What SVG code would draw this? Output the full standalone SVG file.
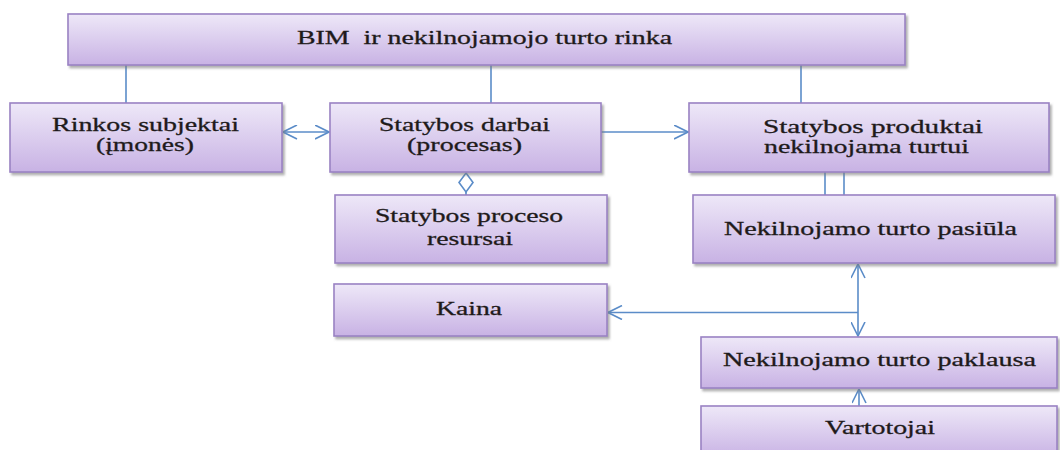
<svg xmlns="http://www.w3.org/2000/svg" width="1060" height="450" viewBox="0 0 1060 450">
  <defs>
    <linearGradient id="boxFill" x1="0" y1="0" x2="0" y2="1">
      <stop offset="0" stop-color="#eee8f8"/>
      <stop offset="1" stop-color="#c8b2e4"/>
    </linearGradient>
    <filter id="boxShadow" x="-5%" y="-10%" width="110%" height="130%">
      <feDropShadow dx="2" dy="2.5" stdDeviation="1" flood-color="#7a7a7a" flood-opacity="0.6"/>
    </filter>
    <marker id="openArrow" viewBox="0 0 15 15" refX="14.5" refY="7.5" markerWidth="15" markerHeight="15" markerUnits="userSpaceOnUse" orient="auto-start-reverse">
      <path d="M0.5,0.5 L14.5,7.5 L0.5,14.5" fill="none" stroke="#5b8cc8" stroke-width="1.6"/>
    </marker>
  </defs>
  <style>
    .box { fill: url(#boxFill); stroke: #9a82c3; stroke-width: 1.6; filter: url(#boxShadow); }
    .lbl { font-family: "Liberation Serif", "Times New Roman", serif; font-size: 19.5px; fill: #1e1a1a; stroke: #1e1a1a; stroke-width: 0.3; text-anchor: middle; }
    .conn { fill: none; stroke: #5b8cc8; stroke-width: 1.6; }
  </style>

  <rect width="1060" height="450" fill="#ffffff"/>

  <!-- connectors -->
  <g id="connectors">
    <line class="conn" x1="126" y1="65" x2="126" y2="103"/>
    <line class="conn" x1="491" y1="65" x2="491" y2="103"/>
    <line class="conn" x1="801" y1="65" x2="801" y2="103"/>
    <line class="conn" x1="283" y1="132" x2="329" y2="132" marker-start="url(#openArrow)" marker-end="url(#openArrow)"/>
    <line class="conn" x1="601" y1="132" x2="688" y2="132" marker-end="url(#openArrow)"/>
    <line class="conn" x1="466" y1="192" x2="466" y2="195"/>
    <path class="conn" d="M466,173 L473,182.5 L466,192 L459,182.5 Z"/>
    <line class="conn" x1="825" y1="172" x2="825" y2="195"/>
    <line class="conn" x1="844" y1="172" x2="844" y2="195"/>
    <line class="conn" x1="858" y1="264" x2="858" y2="336" marker-start="url(#openArrow)" marker-end="url(#openArrow)"/>
    <line class="conn" x1="858" y1="312.5" x2="608" y2="312.5" marker-end="url(#openArrow)"/>
    <line class="conn" x1="859" y1="406" x2="859" y2="389" marker-end="url(#openArrow)"/>
  </g>

  <g id="bim-rinka">
    <rect class="box" x="68" y="14" width="837" height="51"/>
    <text class="lbl" x="484.5" y="44" textLength="375" lengthAdjust="spacingAndGlyphs" xml:space="preserve">BIM  ir nekilnojamojo turto rinka</text>
  </g>

  <g id="rinkos-subjektai">
    <rect class="box" x="10" y="103" width="272" height="69"/>
    <text class="lbl" x="145.5" y="131" textLength="187" lengthAdjust="spacingAndGlyphs">Rinkos subjektai</text>
    <text class="lbl" x="145" y="151" textLength="98" lengthAdjust="spacingAndGlyphs">(įmonės)</text>
  </g>

  <g id="statybos-darbai">
    <rect class="box" x="330" y="103" width="271" height="69"/>
    <text class="lbl" x="464.5" y="131" textLength="171" lengthAdjust="spacingAndGlyphs">Statybos darbai</text>
    <text class="lbl" x="464.5" y="151" textLength="115" lengthAdjust="spacingAndGlyphs">(procesas)</text>
  </g>

  <g id="statybos-produktai">
    <rect class="box" x="689" y="103" width="360" height="69"/>
    <text class="lbl" x="873" y="133" textLength="220" lengthAdjust="spacingAndGlyphs">Statybos produktai</text>
    <text class="lbl" x="866.5" y="153" textLength="205" lengthAdjust="spacingAndGlyphs">nekilnojama turtui</text>
  </g>

  <g id="proceso-resursai">
    <rect class="box" x="335" y="195" width="272" height="68"/>
    <text class="lbl" x="469" y="222" textLength="188" lengthAdjust="spacingAndGlyphs">Statybos proceso</text>
    <text class="lbl" x="470" y="245" textLength="86" lengthAdjust="spacingAndGlyphs">resursai</text>
  </g>

  <g id="pasiula">
    <rect class="box" x="693" y="195" width="362" height="68"/>
    <text class="lbl" x="870.5" y="235" textLength="293" lengthAdjust="spacingAndGlyphs">Nekilnojamo turto pasiūla</text>
  </g>

  <g id="kaina">
    <rect class="box" x="334" y="284" width="273" height="52"/>
    <text class="lbl" x="469" y="315" textLength="66" lengthAdjust="spacingAndGlyphs">Kaina</text>
  </g>

  <g id="paklausa">
    <rect class="box" x="701" y="337" width="356" height="51"/>
    <text class="lbl" x="879.5" y="366" textLength="313" lengthAdjust="spacingAndGlyphs">Nekilnojamo turto paklausa</text>
  </g>

  <g id="vartotojai">
    <rect class="box" x="701" y="406" width="356" height="52"/>
    <text class="lbl" x="880" y="434" textLength="110" lengthAdjust="spacingAndGlyphs">Vartotojai</text>
  </g>
</svg>
